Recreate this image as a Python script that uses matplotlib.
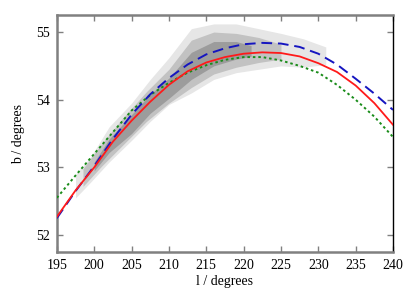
import matplotlib
matplotlib.use("Agg")
import matplotlib.pyplot as plt
import numpy as np

plt.rcParams['font.family'] = ['Liberation Serif', 'DejaVu Serif']

# ------------------------------- DATA -------------------------------- #
l_vals = [195, 197.5, 200, 202.5, 205, 207.5, 210, 212.5, 215, 217.5,
          220, 222.5, 225, 227.5, 230, 232.5, 235, 237.5, 240]
b_red = [52.27, 52.66, 53.00, 53.38, 53.69, 53.97, 54.22, 54.42, 54.55, 54.63,
         54.68, 54.70, 54.69, 54.64, 54.54, 54.41, 54.21, 53.95, 53.63]
b_blue = [52.25, 52.65, 53.02, 53.42, 53.78, 54.08, 54.32, 54.52, 54.67, 54.76,
          54.82, 54.84, 54.83, 54.78, 54.68, 54.52, 54.31, 54.09, 53.85]
b_green = [52.55, 52.88, 53.20, 53.52, 53.84, 54.07, 54.25, 54.40, 54.51, 54.59,
           54.63, 54.63, 54.58, 54.50, 54.40, 54.22, 54.00, 53.75, 53.45]

# scatter cloud, outer (sparse) envelope
cloud_l = [197.5, 199.5, 202, 205, 207.5, 210, 213, 216, 219, 222, 225, 228, 231]
cloud_lo = [52.55, 52.78, 53.08, 53.40, 53.68, 53.93, 54.10, 54.30, 54.40, 54.45, 54.50, 54.48, 54.52]
cloud_hi = [52.90, 53.15, 53.60, 53.95, 54.30, 54.62, 55.05, 55.12, 55.12, 55.05, 54.98, 54.90, 54.78]

# medium-density band
mid_l = [198.5, 201, 204, 207, 210, 213, 216, 219, 222, 225]
mid_lo = [52.72, 53.02, 53.35, 53.68, 53.95, 54.18, 54.38, 54.48, 54.55, 54.6]
mid_hi = [52.98, 53.35, 53.75, 54.12, 54.45, 54.88, 55.0, 54.98, 54.92, 54.82]

# dense core of the cloud
core_l = [200, 202, 205, 207.5, 210, 213, 216, 219, 221]
core_lo = [52.95, 53.22, 53.5, 53.8, 54.02, 54.3, 54.5, 54.6, 54.64]
core_hi = [53.08, 53.42, 53.78, 54.08, 54.32, 54.7, 54.86, 54.86, 54.8]

# ------------------------------- PLOT -------------------------------- #
fig = plt.figure(figsize=(4.15, 2.91), dpi=100)
ax = fig.add_axes([0.137, 0.134, 0.810, 0.814])

ax.fill_between(cloud_l, cloud_lo, cloud_hi, color='#e6e6e6', lw=0, zorder=1)
ax.fill_between(mid_l, mid_lo, mid_hi, color='#c2c2c2', lw=0, zorder=1.5)
ax.fill_between(core_l, core_lo, core_hi, color='#9c9c9c', lw=0, zorder=2)

ax.plot(l_vals, b_green, color='#1a8c1a', lw=1.4, linestyle=(0, (1.3, 1.5)), zorder=3)
ax.plot(l_vals, b_blue, color='#1515c0', lw=1.4, linestyle=(0, (5.5, 3.0)), zorder=4)
ax.plot(l_vals, b_red, color='#ff1a1a', lw=1.3, linestyle='-', zorder=5)

ax.set_xlim(195, 240)
ax.set_ylim(51.75, 55.25)
ax.set_xticks(np.arange(195, 241, 5))
ax.set_yticks([52, 53, 54, 55])

ax.tick_params(direction='in', length=4, width=1, color='#808080',
               top=True, right=True, labelsize=10, pad=5)

for side in ['left', 'bottom', 'top']:
    ax.spines[side].set_color('#808080')
    ax.spines[side].set_linewidth(1.8)
ax.spines['right'].set_color('black')
ax.spines['right'].set_linewidth(1.0)

ax.set_xlabel("l / degrees", fontsize=10, labelpad=2)
ax.set_ylabel("b / degrees", fontsize=10, labelpad=8)

plt.savefig("out.png", dpi=100)
